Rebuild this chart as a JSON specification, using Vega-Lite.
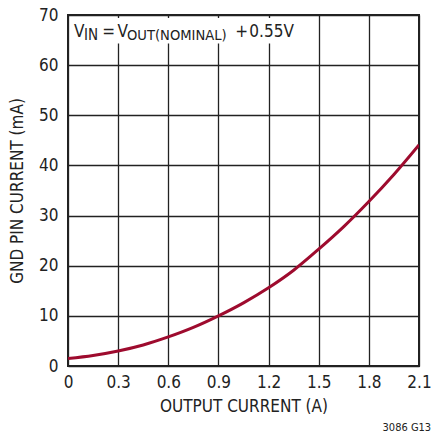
{
  "$schema": "https://vega.github.io/schema/vega-lite/v6.json",
  "width": 351,
  "height": 351,
  "autosize": "none",
  "padding": {"left": 68, "top": 15, "right": 12, "bottom": 68},
  "background": "white",
  "config": {
    "font": "DejaVu Sans Condensed, Roboto, sans-serif",
    "view": {"stroke": "#222", "strokeWidth": 2},
    "axis": {
      "grid": true, "gridColor": "#222", "gridWidth": 1.3, "gridOpacity": 1,
      "domain": false, "ticks": false,
      "labelFont": "DejaVu Sans Condensed, Roboto, sans-serif", "labelFontSize": 17, "labelColor": "#222",
      "titleFont": "DejaVu Sans Condensed, Roboto, sans-serif", "titleFontSize": 17, "titleFontWeight": "normal", "titleColor": "#222"
    }
  },
  "title": {
    "text": "3086 G13", "orient": "bottom", "anchor": "end",
    "fontSize": 11, "fontWeight": "normal", "font": "DejaVu Sans Condensed, Roboto, sans-serif", "color": "#222", "offset": 8
  },
  "data": {"values": [
    {"current": 0.0, "gnd": 1.5},
    {"current": 0.15, "gnd": 2.1},
    {"current": 0.3, "gnd": 3.0},
    {"current": 0.45, "gnd": 4.2},
    {"current": 0.6, "gnd": 5.8},
    {"current": 0.75, "gnd": 7.7},
    {"current": 0.9, "gnd": 10.0},
    {"current": 1.05, "gnd": 12.6},
    {"current": 1.2, "gnd": 15.6},
    {"current": 1.35, "gnd": 19.1},
    {"current": 1.5, "gnd": 23.3},
    {"current": 1.65, "gnd": 27.8},
    {"current": 1.8, "gnd": 32.8},
    {"current": 1.95, "gnd": 38.2},
    {"current": 2.1, "gnd": 44.1}
  ]},
  "layer": [
    {
      "mark": {"type": "line", "color": "#9e0b2e", "strokeWidth": 3, "interpolate": "monotone", "clip": true},
      "encoding": {
        "x": {"field": "current", "type": "quantitative", "title": "OUTPUT CURRENT (A)",
              "scale": {"domain": [0, 2.1], "nice": false},
              "axis": {"values": [0, 0.3, 0.6, 0.9, 1.2, 1.5, 1.8, 2.1], "labelPadding": 8, "titlePadding": 8, "labelFlush": false, "format": ".1~f"}},
        "y": {"field": "gnd", "type": "quantitative", "title": "GND PIN CURRENT (mA)",
              "scale": {"domain": [0, 70], "nice": false},
              "axis": {"values": [0, 10, 20, 30, 40, 50, 60, 70], "labelPadding": 10, "titlePadding": 12, "labelFlush": false}}
      }
    },
    {
      "data": {"values": [{}]},
      "mark": {"type": "rect", "color": "white", "opacity": 1},
      "encoding": {"x": {"datum": 0.012}, "x2": {"datum": 1.36}, "y": {"datum": 64.3}, "y2": {"datum": 69.4}}
    },
    {
      "data": {"values": [{}]},
      "mark": {"type": "text", "align": "left", "baseline": "alphabetic", "fontSize": 17, "color": "#222"},
      "encoding": {"x": {"datum": 0.036}, "y": {"datum": 65.6}, "text": {"value": "V"}}
    },
    {
      "data": {"values": [{}]},
      "mark": {"type": "text", "align": "left", "baseline": "alphabetic", "fontSize": 15, "color": "#222"},
      "encoding": {"x": {"datum": 0.096}, "y": {"datum": 65.0}, "text": {"value": "IN"}}
    },
    {
      "data": {"values": [{}]},
      "mark": {"type": "text", "align": "left", "baseline": "alphabetic", "fontSize": 17, "color": "#222"},
      "encoding": {"x": {"datum": 0.205}, "y": {"datum": 65.6}, "text": {"value": "="}}
    },
    {
      "data": {"values": [{}]},
      "mark": {"type": "text", "align": "left", "baseline": "alphabetic", "fontSize": 17, "color": "#222"},
      "encoding": {"x": {"datum": 0.296}, "y": {"datum": 65.6}, "text": {"value": "V"}}
    },
    {
      "data": {"values": [{}]},
      "mark": {"type": "text", "align": "left", "baseline": "alphabetic", "fontSize": 14.6, "color": "#222"},
      "encoding": {"x": {"datum": 0.353}, "y": {"datum": 65.0}, "text": {"value": "OUT(NOMINAL)"}}
    },
    {
      "data": {"values": [{}]},
      "mark": {"type": "text", "align": "left", "baseline": "alphabetic", "fontSize": 17, "color": "#222"},
      "encoding": {"x": {"datum": 1.0}, "y": {"datum": 65.6}, "text": {"value": "+"}}
    },
    {
      "data": {"values": [{}]},
      "mark": {"type": "text", "align": "left", "baseline": "alphabetic", "fontSize": 17, "color": "#222"},
      "encoding": {"x": {"datum": 1.085}, "y": {"datum": 65.6}, "text": {"value": "0.55V"}}
    }
  ]
}
